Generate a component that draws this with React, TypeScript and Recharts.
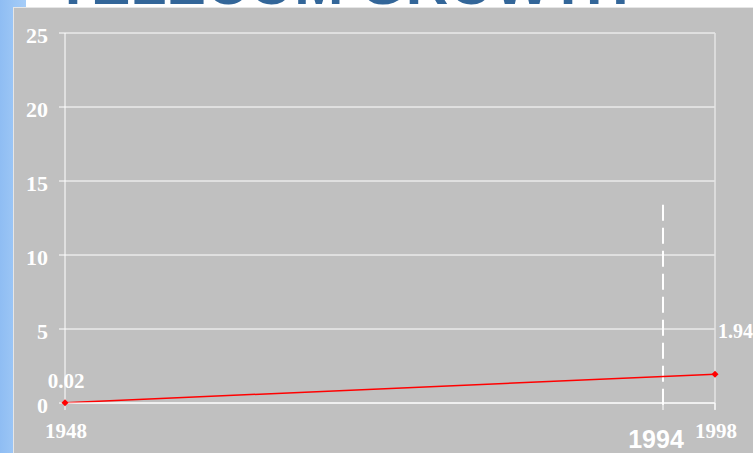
import React from 'react';
import { LineChart, Line, XAxis, YAxis, CartesianGrid, ReferenceLine, LabelList } from 'recharts';

const years = [1948, 1998];
const subscribers = [0.02, 1.94];
const yTicks = [0, 5, 10, 15, 20, 25];
const xTicks = [1948, 1994, 1998];
const markerYear = 1994;

const data = years.map((year, i) => ({ year, value: subscribers[i] }));

const serif = '"Liberation Serif", "Times New Roman", serif';
const sans = '"Liberation Sans", Arial, sans-serif';

const Diamond = (props: any) => {
  const { cx, cy } = props;
  if (cx == null || cy == null) return null;
  const r = 3.5;
  return <path d={`M${cx},${cy - r}L${cx + r},${cy}L${cx},${cy + r}L${cx - r},${cy}Z`} fill="#ff0000" />;
};

const XTick = (props: any) => {
  const { x, y, payload } = props;
  if (payload.value === markerYear) {
    return (
      <text x={x - 7} y={y + 36} textAnchor="middle" fill="#ffffff" fontFamily={sans} fontWeight="bold" fontSize={25}>
        {payload.value}
      </text>
    );
  }
  return (
    <text x={x + 1} y={y + 26} textAnchor="middle" fill="#ffffff" fontFamily={serif} fontWeight="bold" fontSize={21}>
      {payload.value}
    </text>
  );
};

const ValueLabel = (props: any) => {
  const { x, y, value, index } = props;
  if (index === 0) {
    return (
      <text x={x + 1} y={y - 15} textAnchor="middle" fill="#ffffff" fontFamily={serif} fontWeight="bold" fontSize={21}>
        {value}
      </text>
    );
  }
  return (
    <text x={x + 3} y={y - 36} textAnchor="start" fill="#ffffff" fontFamily={serif} fontWeight="bold" fontSize={20}>
      {value}
    </text>
  );
};

export default function App() {
  return (
    <div style={{ position: 'absolute', left: 0, top: 0, width: 753, height: 453, background: '#ffffff', overflow: 'hidden' }}>
      {/* left blue strip */}
      <div style={{ position: 'absolute', left: 0, top: 0, width: 26, height: 453, background: 'linear-gradient(to right, #8fbdf3, #a6cdf8)' }} />
      {/* cut-off title */}
      <div
        style={{
          position: 'absolute', left: 55, top: -46, fontFamily: sans, fontWeight: 'bold',
          fontSize: 59, color: '#336699', whiteSpace: 'nowrap', lineHeight: '60px',
        }}
      >
        TELECOM GROWTH
      </div>
      {/* gray panel */}
      <div
        style={{
          position: 'absolute', left: 13, top: 7, width: 740, height: 446, background: '#c0c0c0',
          borderLeft: '1px solid #e6e6e6', borderTop: '1px solid #e6e6e6', boxSizing: 'border-box',
        }}
      />
      <div style={{ position: 'absolute', left: 0, top: 0 }}>
        <LineChart width={753} height={453} data={data} margin={{ top: 33, right: 38, bottom: 20, left: 15 }}>
          <CartesianGrid vertical={false} stroke="#ffffff" strokeWidth={1} />
          <XAxis
            dataKey="year"
            type="number"
            domain={[1948, 1998]}
            ticks={xTicks}
            height={30}
            axisLine={{ stroke: '#ffffff' }}
            tickLine={{ stroke: '#ffffff' }}
            tickSize={7}
            tick={<XTick />}
            interval={0}
          />
          <YAxis
            domain={[0, 25]}
            ticks={yTicks}
            width={50}
            axisLine={{ stroke: '#ffffff' }}
            tickLine={{ stroke: '#ffffff' }}
            tickSize={6}
            tickMargin={11}
            tick={{ fill: '#ffffff', fontFamily: serif, fontWeight: 'bold', fontSize: 22, dy: 2 }}
          />
          <ReferenceLine
            segment={[{ x: 1998, y: 25 }, { x: 1998, y: -0.45 }]}
            stroke="#e4e4e4"
            strokeWidth={1.5}
            ifOverflow="visible"
          />
          <ReferenceLine
            segment={[{ x: markerYear, y: 13.4 }, { x: markerYear, y: -0.27 }]}
            stroke="#ffffff"
            strokeWidth={2}
            strokeDasharray="16 7"
            ifOverflow="visible"
          />
          <Line
            dataKey="value"
            stroke="#ff0000"
            strokeWidth={1.5}
            dot={<Diamond />}
            activeDot={false}
            isAnimationActive={false}
          >
            <LabelList dataKey="value" content={<ValueLabel />} />
          </Line>
        </LineChart>
      </div>
    </div>
  );
}
